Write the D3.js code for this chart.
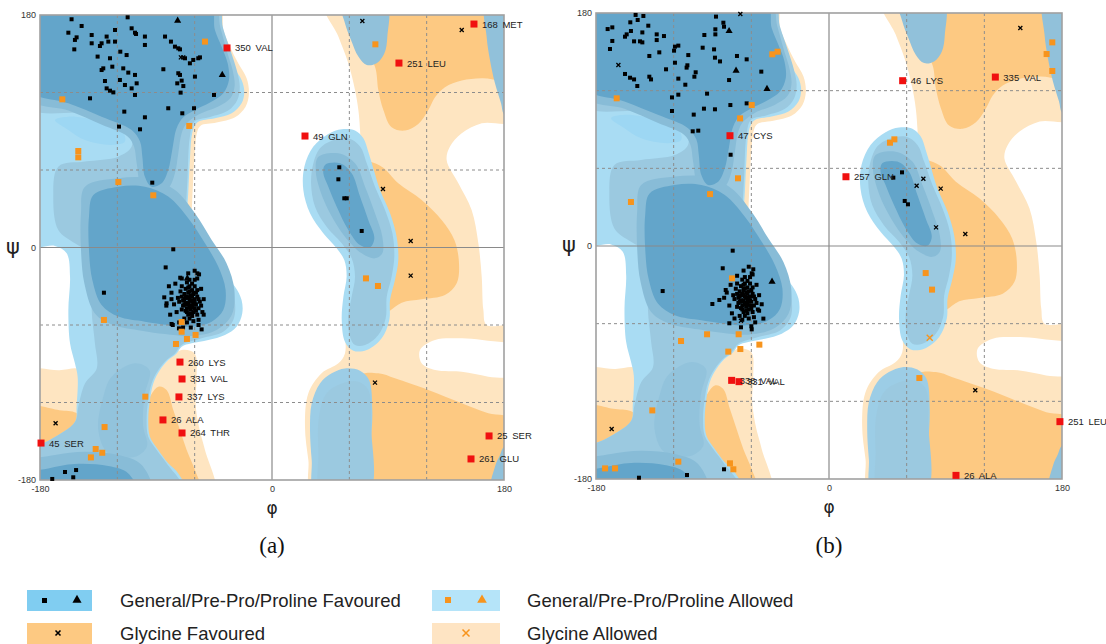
<!DOCTYPE html>
<meta charset="utf-8">
<style>
  body { margin: 0; background: #fff; }
  svg text { font-family: "Liberation Sans", Arial, sans-serif; }
</style>
<body>
<svg width="1106" height="644"></svg>
<script src="https://d3js.org/d3.v7.min.js"></script>
<script>

// ---- tick values / labels ----
var tickVals = [-180, 0, 180];
var gridDashed = [-120, -60, 60, 120];
var legendLabels = ["General/Pre-Pro/Proline Favoured", "General/Pre-Pro/Proline Allowed",
                    "Glycine Favoured", "Glycine Allowed"];

// ---- background contour regions, [phi, psi] ----
var glyAllowedRegions = [
  [[41,190],[190,190],[190,98.7],[162.7,96.1],[147.2,88.4],[138.1,78.1],[135.5,67.8],[144.6,49.7],[154.9,29],[160.1,3.2],[162.7,-22.6],[164,-48.4],[166.5,-60],[190,-60.8],[190,-71.6],[147.2,-70.3],[126.5,-71.6],[114.8,-79.4],[116.1,-89.7],[126.5,-94.9],[147.2,-96.1],[167.8,-100],[190,-105.2],[190,-190],[32,-190],[28.2,-164.5],[25.6,-138.7],[28.2,-112.9],[38.5,-97.4],[51.5,-89.7],[56.6,-82],[56.6,-61.3],[61.8,-12.3],[69.6,29],[68.3,91],[67,106.5],[64.4,122],[59.2,142.6],[51.5,163.3]],
  [[-100,190],[-41,190],[-37.8,168.4],[-32.6,155.5],[-26.2,142.6],[-19.7,131],[-17.9,119.4],[-20.5,109],[-28.7,100.8],[-43,96.7],[-55.4,94.3],[-58,89.7],[-59.8,75.5],[-61.3,49.7],[-62.4,23.9],[-62.9,5.8],[-75,0],[-100,60]],
  [[-190,-96],[-165,-95],[-150,-94],[-147,-100],[-147,-140],[-190,-165]],
  [[-70.1,-79.4],[-60,-82],[-58.5,-100],[-59.3,-120.6],[-56.7,-138.7],[-52,-156.8],[-44.5,-190],[-77,-190],[-96,-138.7],[-93.4,-105.2],[-80.5,-87.1]]
];
var glyFavRegions = [
  [[54,190],[190,190],[190,131],[162.7,131],[147.2,129.2],[134.2,124],[126.5,116.3],[121.3,106.5],[113.5,95.6],[103.2,90.5],[92.8,93.1],[86.4,106.5],[82.5,122],[79.9,140],[69.6,158.1],[61.8,173.6]],
  [[69.6,66.5],[85.1,62.6],[98,49.7],[116.1,36.8],[131.6,21.3],[141.5,5.8],[145.1,-12.3],[143.3,-27.7],[134.2,-36.8],[116.1,-40.1],[100.6,-42.7],[90.3,-49.7],[79.9,-56.1],[67,-43.2],[64.4,3.2],[64.4,49.7]],
  [[67,-100],[82.5,-97.4],[95.4,-101.3],[121.3,-110.3],[147.2,-120.6],[167.8,-128.4],[190,-134],[190,-190],[67,-190]],
  [[-190,-124],[-165,-126],[-152,-128],[-146,-134],[-160,-150],[-190,-165]],
  [[-98.6,-125.8],[-88.2,-107.8],[-81.8,-110.3],[-76.6,-125.8],[-71.4,-141.3],[-66.2,-156.8],[-59.8,-172.3],[-55,-190],[-77,-190],[-96,-151.6]]
];
var genOuterRegions = [
  [[-190,190],[-52,190],[-46.8,171],[-41.7,158],[-35.2,145.2],[-28.7,137.4],[-23.6,129.7],[-21.5,120.7],[-23.6,111.6],[-31.3,103.9],[-44.3,100],[-57.2,97.4],[-60.3,93.6],[-62.4,85.8],[-63.7,67.8],[-65,42],[-66.3,18.7],[-65.5,3.2],[-62.4,-4.5],[-52,-12.3],[-39.1,-20],[-28.7,-30.3],[-23.6,-40.6],[-23.1,-51],[-27.5,-61.3],[-36.5,-67.7],[-49.4,-71.6],[-62.4,-74.2],[-70.1,-76.8],[-74,-82],[-80.5,-87.1],[-86.9,-94.9],[-92.1,-105.2],[-94.7,-118.1],[-96,-133.6],[-94.7,-146.5],[-88.2,-156.8],[-80.5,-167.1],[-72.7,-174.9],[-67,-190],[-190,-190],[-190,-158],[-172.3,-149],[-152.9,-135.1],[-151.6,-123.2],[-150.8,-100],[-152.9,-89.7],[-156.7,-74.2],[-158,-48.4],[-156.7,-22.6],[-159.3,-4.5],[-168.4,1.2],[-190,2]],
  [[43.7,87.9],[54.1,91.5],[64.4,90.5],[70.9,84.5],[74.7,74.2],[78.6,61.3],[83.8,44.5],[91.6,26.5],[96.7,8.4],[98,-9.7],[95.4,-25.2],[91.6,-40.6],[91,-56.1],[85.1,-70.3],[73.5,-79.4],[63.1,-79.9],[56.6,-72.9],[54.1,-56.1],[55.4,-38.1],[57.9,-22.6],[56.1,-9.7],[50.2,-0.6],[39.8,11],[29.5,26.5],[24.3,44.5],[25.1,62.6],[32.1,78.1]]
];
var genBottomRegions = [
  [[37.2,-105.2],[46.3,-97.4],[56.6,-93.6],[68.3,-95.4],[75.3,-102.6],[77.8,-125.8],[76.8,-151.6],[75,-190],[33.5,-190],[30.8,-164.5],[29.5,-141.3],[30.8,-120.6]]
];
var genEdgeRegions = [
  [[54,190],[88.5,190],[89.5,163.3],[87.2,150.3],[81.2,142.6],[73.5,141.3],[67,147.8],[61.3,160.7],[56.6,173.6]],
  [[166,190],[190,190],[190,96],[180,103],[177.7,111.6],[173,127.1],[169.1,145.2],[166.5,163.3]],
  [[190,-152],[180,-154.2],[176.9,-160.7],[173,-169.7],[170,-190],[190,-190]]
];
var genCyanPatch = [
  [[-168.4,98.7],[-158,101.3],[-132.2,97.4],[-116.7,91],[-114.1,82],[-124.4,79.4],[-145.1,83.2],[-158,91]]
];
var genMidRegions = [
  [[-190,190],[-43,190],[-38,170],[-32,152],[-27,136],[-25,124],[-27,114],[-34,106],[-48,101],[-60.3,97.4],[-63.7,85.8],[-65.5,54.8],[-67,18.7],[-66.2,1.9],[-57.2,-8.4],[-43,-17.4],[-32.6,-30.3],[-28.7,-43.2],[-30,-56.1],[-37.8,-65.2],[-54.6,-70.3],[-70.1,-75.5],[-75.3,-82],[-81.8,-87.1],[-88.2,-94.9],[-93.4,-105.2],[-96,-118.1],[-97.3,-133.6],[-96,-146.5],[-89.5,-156.8],[-81.8,-167.1],[-68,-190],[-190,-190],[-190,-158],[-172.3,-149],[-152.9,-135.1],[-150.3,-123.2],[-145.1,-105.2],[-136,-93.6],[-137.4,-74.2],[-139.9,-48.4],[-138.6,-22.6],[-141.2,-4.5],[-152.9,3.2],[-165.8,13.6],[-169.7,39.4],[-165.8,62.6],[-145.1,66.5],[-119.2,70.3],[-108.9,78.1],[-110.2,88.4],[-121.8,98.7],[-145.1,104],[-190,109]],
  [[46.3,82.7],[59.2,84.5],[68.3,78.1],[73.5,65.2],[79.9,47.1],[87.7,29],[93.4,11],[94.9,-7.1],[92.8,-22.6],[89,-38.1],[88.2,-54.8],[82.5,-67.8],[72.2,-75.5],[64.4,-75.5],[60.5,-69],[59.2,-53.5],[61.8,-38.1],[64.4,-22.6],[61.8,-8.4],[54.1,3.2],[42.4,16.1],[33.4,31.6],[30.3,49.7],[32.1,65.2],[37.2,76.8]],
  [[42.4,-112.9],[54.1,-105.2],[67,-103.9],[74.7,-110.3],[76.8,-138.7],[75,-190],[38.5,-190],[36,-159.4],[36.5,-131]]
];
var genLowBlob = [
  [[-124.4,-100],[-106.3,-89.7],[-95,-95],[-99,-115],[-100,-138],[-97,-154],[-106.3,-162],[-127,-159.4],[-134.8,-141.3],[-130.9,-115.5]]
];
var genInnerRegions = [
  [[-190,190],[-46,190],[-40,170],[-35,152],[-30.5,137],[-29,125],[-32,116],[-42,109],[-57,103],[-66.2,96.1],[-70.1,88.4],[-72.7,72.9],[-75.3,57.4],[-80.5,45.8],[-90.8,41.9],[-101.1,47.1],[-105,65.2],[-107,78],[-112,86],[-132,95],[-158,106],[-190,116]],
  [[-145.1,47.1],[-119.2,53.6],[-96,53.6],[-75.3,44.5],[-59.8,26.5],[-46.8,5.8],[-35.2,-12.3],[-29.2,-32.9],[-31.3,-52.3],[-43,-63.9],[-62.4,-68.5],[-83,-67],[-101.1,-64.4],[-123.1,-60],[-137.4,-51],[-145.6,-27.7],[-148.2,-2],[-148.2,26.5]],
  [[-190,-167],[-168.4,-160.7],[-145.1,-158.1],[-119.2,-160.7],[-101.1,-168.4],[-94,-190],[-190,-190]],
  [[36,70.3],[51.5,72.9],[64.4,65.2],[72.2,47.1],[79.9,26.5],[85.6,8.4],[85.6,-4.5],[79.9,-8.4],[69.6,-4.5],[56.6,8.4],[45,26.5],[37.2,44.5],[33.9,60]]
];
var genCoreRegions = [
  [[-190,190],[-49,190],[-44.3,168.4],[-39.1,155.5],[-34.4,142.6],[-33.4,129.7],[-37.8,119.4],[-48.1,112.2],[-59.8,106.5],[-68.8,100.8],[-74,92.3],[-77.4,75.5],[-80.5,60],[-85.6,49.7],[-93.4,47.1],[-98.6,54.8],[-100.6,70.3],[-102.4,82],[-108.9,91],[-132.2,101.3],[-158,111.6],[-190,123]],
  [[-138.6,40.6],[-119.2,47.1],[-98.6,47.1],[-80.5,39.4],[-65,22.6],[-52,3.2],[-41.7,-14.8],[-36,-32.9],[-37.8,-48.4],[-46.8,-57.4],[-62.4,-61.3],[-80.5,-60],[-98.6,-57.4],[-119.2,-53.5],[-132.2,-44.5],[-139.4,-25.2],[-142,-2],[-142,23.9]],
  [[-190,-176],[-173.6,-171],[-152.9,-167.6],[-127,-169.2],[-111.5,-174.9],[-105,-190],[-190,-190]],
  [[41.1,63.9],[52.8,65.2],[61.8,57.4],[68.3,39.4],[74.7,21.3],[79.4,7.1],[76,0.1],[68.3,1.9],[59.2,13.6],[50.2,31.6],[43.7,47.1],[39.8,57.4]]
];

// ---- panel (a) residues ----
var aGeneralFav = [
  [-155.5,176.7],[-112,178.2],[-147.7,171.5],[-121.8,168.4],[-108.9,169.7],[-106.3,166.3],[-105.5,165.3],[-158,166.3],[-151.6,162.7],[-152.9,160.7],[-139.9,164.5],[-128.3,163.3],[-98.6,163.3],[-83,163.3],[-78.4,159.4],[-75.3,155.5],[-72.7,154.2],[-71.4,153.4],[-153.4,153.4],[-139.9,158.1],[-132.2,158.1],[-133.5,156],[-127,159.4],[-121.8,159.4],[-98.6,156.8],[-117.7,151.6],[-112.8,149],[-135.3,147.8],[-125.7,146.5],[-123.9,140],[-130.9,138.7],[-132.2,137.4],[-115.4,138.7],[-111.5,135.4],[-106.3,133.6],[-84.3,138],[-67.5,146.5],[-63.7,142.6],[-61.1,145.2],[-57.2,146.5],[-55.9,147.2],[-59.8,132.3],[-72.7,134.9],[-71.4,133.6],[-70.1,129.2],[-73.5,127.1],[-68.8,125],[-129.6,128.9],[-118,129.7],[-114.1,125.8],[-105,127.1],[-108.9,123.2],[-128.3,123.2],[-125.7,121.4],[-123.1,120.1],[-106.3,118.1],[-141.2,115.5],[-70.9,119.9],[-45,118.1],[-114.6,105.2],[-98.6,100.8],[-80.5,107.8],[-69.6,103.9],[-60.5,107.8],[-118.7,93.6],[-102.4,91.5],[-92.9,50.2],
  [-160.6,-173.8],[-152,-172.3],[-154.2,-177.9],[-170.5,-179.2],
  [52.2,62.1],[51.5,52.8],[56.1,38.1],[58,38.1],[69.6,12.8],
  [-64,-40],[-62,-42],[-66,-38],[-63,-45],[-60,-40],[-67,-43],[-65,-35],[-61,-36],[-68,-40],[-63,-48],[-59,-44],[-66,-47],[-62,-33],[-70,-38],[-64,-30],[-58,-38],[-69,-45],[-61,-50],[-65,-52],[-57,-47],[-67,-32],[-60,-30],[-72,-42],[-63,-37],[-65,-43],[-62,-46],[-68,-36],[-60,-47],[-66,-50],[-64,-55],[-58,-52],[-70,-48],[-62,-28],[-66,-27],[-56,-42],[-71,-34],[-59,-35],[-63,-41],[-67,-39],[-61,-44],[-64,-46],[-65,-39],[-62,-38],[-60,-43],[-68,-44],[-57,-40],[-66,-44],[-64,-34],[-61,-41],[-63,-51],[-69,-41],[-59,-49],[-65,-31],[-62,-53],[-67,-49],[-58,-33],[-73,-39],[-55,-45],[-64,-25],[-60,-25],[-70,-30],[-54,-50],[-68,-55],[-61,-57],[-66,-58],[-57,-56],[-75,-28],[-78,-35],[-80,-30],[-76,-44],[-74,-50],[-79,-52],[-72,-58],[-69,-62],[-63,-62],[-57,-60],[-53,-52],[-53,-40],[-55,-32],[-58,-24],[-60,-18],[-65,-20],[-70,-24],[-82,-45],[-77,-60],[-78,-40],
  [-76.6,-1.4],[-82.5,-15.4],[-130.4,-35],[-57.9,-20],[-56.6,-20.8],[-83.6,-38.6],[-81.8,-43.2],[-77.9,-59.2],[-54.6,-63.4],[-72.2,-62.6],[-71.2,-23.4]
];
var aProFav = [[-73.2,175.6],[-38.6,133.6],[-65.7,-23.9]];
var aAllowed = [
  [-52,159.4],[-162.7,114.7],[-64.2,94.1],[-150.3,74.7],[-150.3,69.8],[-119.2,50.7],[-92.1,40.4],[-130.4,-56.1],[-70.1,-57.7],[-70.1,-65.2],[-66,-70.8],[-59.3,-67.7],[-74.5,-74.7],[-98.3,-115.5],[-129.9,-139],[-136.8,-156],[-131.7,-158.9],[-140.5,-162.5],
  [80.2,157.3],[72.9,-23.9],[82.2,-29.8]
];
var aGlyFav = [[-70.7,147.2],[-68.9,147.2],[-167.9,-136.1],[70.1,175.4],[147.2,168.4],[86.1,45.3],[107.6,5],[107.6,-21.8],[79.9,-104.6]];
var aGlyAllowed = [];
var aOutliers = [
  [-34.9,154.5,"350 VAL"],[-71.4,-88.7,"260 LYS"],[-69.8,-101.8,"331 VAL"],[-72.2,-115.7,"337 LYS"],
  [-84.6,-133.5,"26 ALA"],[-69.8,-143.6,"264 THR"],[-179.2,-151.4,"45 SER"],[156.7,173,"168 MET"],
  [98.5,142.8,"251 LEU"],[25.6,86.3,"49 GLN"],[168.4,-145.9,"25 SER"],[154.4,-163.7,"261 GLU"]
];

// ---- panel (b) residues ----
var bGeneralFav = [
  [-149.4,178.5],[-143.4,177.7],[-171,167.6],[-167.4,168.9],[-153.5,172.8],[-147.8,174.6],[-139.6,170.2],[-153,166.1],[-157.6,161.7],[-156.3,163.5],[-144.2,165],[-133.1,163.5],[-127.5,162.2],[-133.1,159.1],[-167.4,158.4],[-150.6,158.1],[-146,158.1],[-144.2,157.3],[-169.2,152.2],[-138.8,146.8],[-131.1,149.6],[-119,154],[-116.4,154.8],[-119.7,150.9],[-108.7,147.5],[-119,141.6],[-125.9,136.5],[-109.4,139.6],[-110,137.8],[-96.3,163],[-87.8,167.4],[-87.3,177.2],[-81.6,172.5],[-81.1,169.4],[-87.8,163.5],[-97.6,153.2],[-88.8,151.9],[-88.1,145.5],[-84.2,142.6],[-71.1,146.8],[-63.6,144.2],[-52.3,134.7],[-77.2,128.2],[-157.6,132.9],[-153.7,130],[-150.6,128.7],[-138.8,130.8],[-137.5,128.7],[-148.1,123.6],[-116.4,129.3],[-111,124.6],[-104,130.8],[-103,134.2],[-94.2,117.7],[-116.4,116.9],[-121.3,114.8],[-121.3,104.3],[-104.5,101.5],[-96.6,106.1],[-88.1,105.6],[-76.2,108.9],[-63.6,110.2],[-105.3,88.6],[-101,89.1],[-76,70.5],
  [56.4,56.9],[49.7,52.8],[58.5,34.8],[61,32.2],
  [-146.8,-179],[-109.7,-176.9],[-81.1,-172.5],
  [-74.4,-3.6],[-82.1,-17.2],[-128.5,-34.8],[-90.1,-44.8],[-84.7,-41.7],[-77,-59.7],[-68,-62.8],[-59.7,-64.4],[-58.5,-18],[-59.7,-21.1],[-79.8,-34],[-50.7,-56.1],
  [-65,-39],[-63,-41],[-67,-37],[-64,-44],[-61,-39],[-68,-42],[-66,-34],[-62,-35],[-69,-39],[-64,-47],[-60,-43],[-67,-46],[-63,-32],[-71,-37],[-65,-29],[-59,-37],[-70,-44],[-62,-49],[-66,-51],[-58,-46],[-68,-31],[-61,-29],[-73,-41],[-64,-36],[-66,-42],[-63,-45],[-69,-35],[-61,-46],[-67,-49],[-65,-54],[-59,-51],[-71,-47],[-63,-27],[-67,-26],[-57,-41],[-72,-33],[-60,-34],[-64,-40],[-68,-38],[-62,-43],[-65,-45],[-66,-38],[-63,-37],[-61,-42],[-69,-43],[-58,-39],[-67,-43],[-65,-33],[-62,-40],[-64,-50],[-70,-40],[-60,-48],[-66,-30],[-63,-52],[-68,-48],[-59,-32],[-74,-38],[-56,-44],[-65,-24],[-61,-24],[-71,-29],[-55,-49],[-69,-54],[-62,-56],[-67,-57],[-58,-55],[-76,-30],[-79,-36],[-77,-46],[-75,-52],[-73,-56],[-57,-59],[-54,-50],[-54,-38],[-56,-30],[-59,-22],[-62,-16],[-66,-19],[-71,-23],[-81,-40],[-52,-45],[-60,-62]
];
var bProFav = [[-77.2,166.1],[-71.8,135.4],[-47.9,121.3],[-44,-27.5]];
var bAllowed = [
  [-43.8,148.1],[-39.7,150.1],[-164,114.1],[-59.7,108.9],[-68.7,98.6],[-70.3,52.3],[-91.9,40.1],[-153,34],[-74.9,-25],[-114.3,-73.4],[-94.2,-68.2],[-69.8,-68.2],[-77.8,-81.6],[-68.5,-79.6],[-53.8,-76.2],[-136.5,-127],[-116.4,-166.6],[-173,-171.8],[-165.3,-171.8],[-76.5,-167.9],[-73.9,-172.5],
  [172.5,157.3],[168.1,148.3],[172.5,135.2],[47.1,79.8],[50.5,82.4],[74.7,-20.9],[79.6,-33.7],[69.8,-102]
];
var bGlyFav = [[-162.7,139.8],[-68.5,179.2],[-68,-57.7],[-167.9,-141.4],[147.8,168.4],[72.9,52],[67.7,46.6],[86.3,44.3],[82.7,14.4],[105.3,9.3],[113,-111.5]];
var bGlyAllowed = [[77.8,-70.8]];
var bOutliers = [
  [-76.5,85.2,"47 CYS"],[-75.2,-103.8,"338 VAL"],[-69.5,-104.8,"331 VAL"],[56.9,127.7,"46 LYS"],
  [128.5,130.5,"335 VAL"],[13.1,53.5,"257 GLN"],[178.4,-135.7,"251 LEU"],[98.1,-177.2,"26 ALA"]
];

// ---- colours ----
var cPaleOrange = "#fee5c1", cOrange = "#fdc982";
var cCyan = "#a9dcf3", cCyanBright = "#9dd7f3", cMid = "#9bc9e0", cEdge = "#91c1da",
    cBottom = "#9ccde6", cLow = "#92c3dc", cInner = "#88bcd7", cCore = "#63a5ca";
var cMarkOrange = "#f7941d", cMarkRed = "#f01010";

var layers = [
  {shapes: glyAllowedRegions, color: cPaleOrange},
  {shapes: glyFavRegions, color: cOrange},
  {shapes: genOuterRegions, color: cCyan},
  {shapes: genBottomRegions, color: cBottom},
  {shapes: genEdgeRegions, color: cEdge},
  {shapes: genCyanPatch, color: cCyanBright},
  {shapes: genMidRegions, color: cMid},
  {shapes: genLowBlob, color: cLow},
  {shapes: genInnerRegions, color: cInner},
  {shapes: genCoreRegions, color: cCore}
];

var svg = d3.select("svg");
var defs = svg.append("defs");

var panels = [
  {id: "a", left: 40, right: 504, top: 15, bottom: 480, caption: "(a)",
   fav: aGeneralFav, pro: aProFav, allowed: aAllowed, gly: aGlyFav, glyAl: aGlyAllowed, out: aOutliers},
  {id: "b", left: 596, right: 1062, top: 13, bottom: 479, caption: "(b)",
   fav: bGeneralFav, pro: bProFav, allowed: bAllowed, gly: bGlyFav, glyAl: bGlyAllowed, out: bOutliers}
];

function crossPath(s) {
  return "M" + (-s) + "," + (-s) + "L" + s + "," + s + "M" + (-s) + "," + s + "L" + s + "," + (-s);
}

panels.forEach(function(p) {
  var x = d3.scaleLinear().domain([-180, 180]).range([p.left, p.right]);
  var y = d3.scaleLinear().domain([-180, 180]).range([p.bottom, p.top]);
  var g = svg.append("g").attr("class", "panel-" + p.id);

  defs.append("clipPath").attr("id", "clip-" + p.id)
    .append("rect").attr("x", p.left).attr("y", p.top)
    .attr("width", p.right - p.left).attr("height", p.bottom - p.top);

  var bg = g.append("g").attr("clip-path", "url(#clip-" + p.id + ")");
  var line = d3.line().x(function(d) { return x(d[0]); }).y(function(d) { return y(d[1]); })
    .curve(d3.curveCatmullRomClosed.alpha(0.5));

  layers.forEach(function(l) {
    bg.selectAll(null).data(l.shapes).enter().append("path")
      .attr("d", line).attr("fill", l.color);
  });

  // grid
  bg.selectAll(null).data(gridDashed).enter().append("line")
    .attr("x1", function(d) { return x(d); }).attr("x2", function(d) { return x(d); })
    .attr("y1", p.top).attr("y2", p.bottom)
    .attr("stroke", "#8c8c8c").attr("stroke-width", 1).attr("stroke-dasharray", "3,3");
  bg.selectAll(null).data(gridDashed).enter().append("line")
    .attr("y1", function(d) { return y(d); }).attr("y2", function(d) { return y(d); })
    .attr("x1", p.left).attr("x2", p.right)
    .attr("stroke", "#8c8c8c").attr("stroke-width", 1).attr("stroke-dasharray", "3,3");
  bg.append("line").attr("x1", x(0)).attr("x2", x(0)).attr("y1", p.top).attr("y2", p.bottom)
    .attr("stroke", "#8a8a8a").attr("stroke-width", 1.2);
  bg.append("line").attr("y1", y(0)).attr("y2", y(0)).attr("x1", p.left).attr("x2", p.right)
    .attr("stroke", "#8a8a8a").attr("stroke-width", 1.2);

  g.append("rect").attr("x", p.left).attr("y", p.top)
    .attr("width", p.right - p.left).attr("height", p.bottom - p.top)
    .attr("fill", "none").attr("stroke", "#a0a0a0").attr("stroke-width", 1.6);

  // axes
  var fmt = function(d) { return String(d); };
  g.append("g").attr("transform", "translate(0," + p.bottom + ")")
    .call(d3.axisBottom(x).tickValues(tickVals).tickSize(0).tickPadding(6).tickFormat(fmt))
    .call(function(a) { a.select(".domain").remove(); })
    .selectAll("text").attr("font-size", 9).attr("fill", "#333")
    .style("font-family", "'Liberation Sans', Arial, sans-serif");
  g.append("g").attr("transform", "translate(" + p.left + ",0)")
    .call(d3.axisLeft(y).tickValues(tickVals).tickSize(0).tickPadding(4).tickFormat(fmt))
    .call(function(a) { a.select(".domain").remove(); })
    .selectAll("text").attr("font-size", 9).attr("fill", "#333")
    .style("font-family", "'Liberation Sans', Arial, sans-serif");

  g.append("text").attr("x", p.left - 27).attr("y", y(0) + 6)
    .attr("text-anchor", "middle").attr("font-size", 21).attr("fill", "#222")
    .style("font-family", "'DejaVu Sans', sans-serif").text("\u03c8");
  g.append("text").attr("x", x(0)).attr("y", p.bottom + 34)
    .attr("text-anchor", "middle").attr("font-size", 17).attr("fill", "#222")
    .style("font-family", "'DejaVu Sans', sans-serif").text("\u03c6");
  g.append("text").attr("x", x(0)).attr("y", 553)
    .attr("text-anchor", "middle").attr("font-size", 23).attr("fill", "#111")
    .style("font-family", "'Liberation Serif', 'Times New Roman', serif").text(p.caption);

  // residues
  var m = g.append("g");
  m.selectAll(null).data(p.fav).enter().append("rect")
    .attr("x", function(d) { return x(d[0]) - 2; }).attr("y", function(d) { return y(d[1]) - 2; })
    .attr("width", 4).attr("height", 4).attr("fill", "#000");
  m.selectAll(null).data(p.allowed).enter().append("rect")
    .attr("x", function(d) { return x(d[0]) - 3; }).attr("y", function(d) { return y(d[1]) - 3; })
    .attr("width", 6).attr("height", 6).attr("fill", cMarkOrange);
  m.selectAll(null).data(p.gly).enter().append("path")
    .attr("transform", function(d) { return "translate(" + x(d[0]) + "," + y(d[1]) + ")"; })
    .attr("d", crossPath(2)).attr("stroke", "#000").attr("stroke-width", 1.3).attr("fill", "none");
  m.selectAll(null).data(p.glyAl).enter().append("path")
    .attr("transform", function(d) { return "translate(" + x(d[0]) + "," + y(d[1]) + ")"; })
    .attr("d", crossPath(3)).attr("stroke", cMarkOrange).attr("stroke-width", 1.4).attr("fill", "none");
  m.selectAll(null).data(p.pro).enter().append("path")
    .attr("transform", function(d) { return "translate(" + x(d[0]) + "," + y(d[1]) + ")"; })
    .attr("d", d3.symbol(d3.symbolTriangle, 22)).attr("fill", "#000");
  m.selectAll(null).data(p.out).enter().append("rect")
    .attr("x", function(d) { return x(d[0]) - 3.5; }).attr("y", function(d) { return y(d[1]) - 3.5; })
    .attr("width", 7).attr("height", 7).attr("fill", cMarkRed);
  m.selectAll(null).data(p.out).enter().append("text")
    .attr("x", function(d) { return x(d[0]) + 8; }).attr("y", function(d) { return y(d[1]) + 3.5; })
    .attr("font-size", 9.5).attr("fill", "#222").attr("word-spacing", 2)
    .text(function(d) { return d[2]; });
});

// legend
var legendCells = [
  {x: 27, y: 590, w: 65, color: "#80cdf1", label: legendLabels[0], tx: 120},
  {x: 432, y: 590, w: 68, color: "#b5e4f9", label: legendLabels[1], tx: 527},
  {x: 27, y: 623, w: 65, color: cOrange, label: legendLabels[2], tx: 120},
  {x: 432, y: 623, w: 68, color: "#fee4c3", label: legendLabels[3], tx: 527}
];
var lg = svg.append("g");
lg.selectAll(null).data(legendCells).enter().append("rect")
  .attr("x", function(d) { return d.x; }).attr("y", function(d) { return d.y; })
  .attr("width", function(d) { return d.w; }).attr("height", 21).attr("fill", function(d) { return d.color; });
lg.selectAll(null).data(legendCells).enter().append("text")
  .attr("x", function(d) { return d.tx; }).attr("y", function(d) { return d.y + 17; })
  .attr("font-size", 18.5).attr("fill", "#222").text(function(d) { return d.label; });

lg.append("rect").attr("x", 42).attr("y", 598).attr("width", 5).attr("height", 5).attr("fill", "#000");
lg.append("path").attr("transform", "translate(77,600)").attr("d", d3.symbol(d3.symbolTriangle, 36)).attr("fill", "#000");
lg.append("rect").attr("x", 445).attr("y", 597).attr("width", 6).attr("height", 6).attr("fill", cMarkOrange);
lg.append("path").attr("transform", "translate(482,600)").attr("d", d3.symbol(d3.symbolTriangle, 40)).attr("fill", cMarkOrange);
lg.append("path").attr("transform", "translate(58,633)").attr("d", crossPath(2.5))
  .attr("stroke", "#000").attr("stroke-width", 1.6).attr("fill", "none");
lg.append("path").attr("transform", "translate(466,633)").attr("d", crossPath(3.5))
  .attr("stroke", cMarkOrange).attr("stroke-width", 1.5).attr("fill", "none");

</script>
</body>
